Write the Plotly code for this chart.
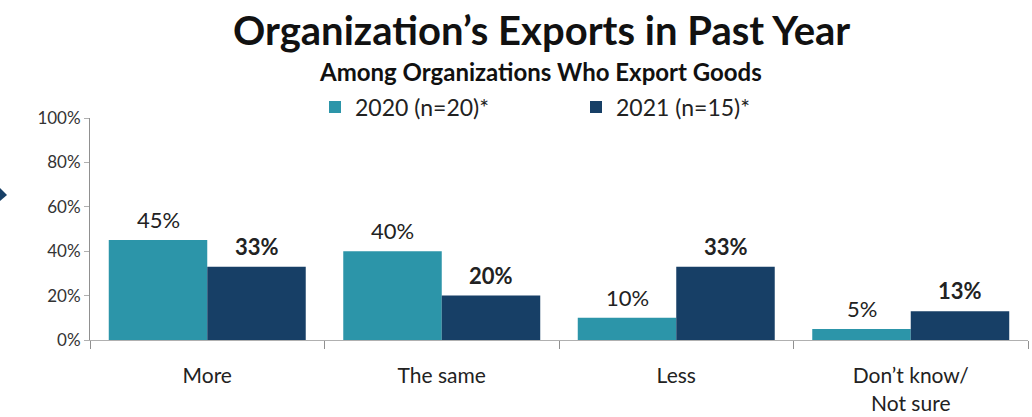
import plotly.graph_objects as go

categories = ["More", "The same", "Less", "Don\u2019t know/<br>Not sure"]
series_names = ["2020 (n=20)*", "2021 (n=15)*"]
values_2020 = [45, 40, 10, 5]
values_2021 = [33, 20, 33, 13]
y_ticks = [0, 20, 40, 60, 80, 100]

teal = "#2C95A9"
navy = "#173F66"
font_family = "Lato, 'Open Sans', sans-serif"

W, H = 1032, 417
L, R, T, B = 90, 4, 118, 77
plot_w, plot_h = W - L - R, H - T - B


def px_to_paper(px, py):
    return (px - L) / plot_w, 1 - (py - T) / plot_h


fig = go.Figure()
fig.add_trace(go.Bar(x=categories, y=values_2020, name=series_names[0],
                     marker=dict(color=teal, line=dict(width=0))))
fig.add_trace(go.Bar(x=categories, y=values_2021, name=series_names[1],
                     marker=dict(color=navy, line=dict(width=0))))

# value labels above each bar (2021 in bold)
bar_offsets = [-0.21, 0.21]
for si, (vals, bold) in enumerate([(values_2020, False), (values_2021, True)]):
    for ci, v in enumerate(vals):
        label = f"<b>{v}%</b>" if bold else f"{v}%"
        fig.add_annotation(x=ci + bar_offsets[si], y=v, xref="x", yref="y",
                           text=label, showarrow=False, yanchor="bottom",
                           yshift=5, font=dict(size=22, color="#222222",
                                               family=font_family))

# title and subtitle
tx, ty = px_to_paper(541, 30)
fig.add_annotation(x=tx, y=ty, xref="paper", yref="paper", showarrow=False,
                   text="<b>Organization\u2019s Exports in Past Year</b>",
                   xanchor="center", yanchor="middle",
                   font=dict(size=40, color="#111111", family=font_family))
sx, sy = px_to_paper(540, 72)
fig.add_annotation(x=sx, y=sy, xref="paper", yref="paper", showarrow=False,
                   text="<b>Among Organizations Who Export Goods</b>",
                   xanchor="center", yanchor="middle",
                   font=dict(size=24, color="#111111", family=font_family))

# small arrow fragment at the left edge
ax0, ay0 = px_to_paper(0, 188)
ax1, ay1 = px_to_paper(7, 195)
ax2, ay2 = px_to_paper(0, 201)
fig.add_shape(type="path", xref="paper", yref="paper",
              path=f"M {ax0} {ay0} L {ax1} {ay1} L {ax2} {ay2} Z",
              fillcolor=navy, line=dict(width=0))

lx, ly = px_to_paper(576, 107)
fig.update_layout(
    width=W, height=H,
    margin=dict(l=L, r=R, t=T, b=B),
    paper_bgcolor="white", plot_bgcolor="white",
    barmode="group", bargap=0.16, bargroupgap=0,
    font=dict(family=font_family, color="#222222"),
    legend=dict(orientation="h", x=lx, xanchor="center", y=ly, yanchor="middle",
                font=dict(size=23, color="#222222"), itemwidth=30,
                traceorder="normal", entrywidth=216),
    showlegend=True,
)
fig.update_xaxes(
    automargin=False,
    showline=True, linecolor="#b0b0b0", linewidth=1,
    ticks="outside", tickson="boundaries", ticklen=8, tickcolor="#909090",
    tickfont=dict(size=21, color="#222222"), ticklabelstandoff=17,
    range=[-0.5, 3.5],
)
fig.update_yaxes(
    automargin=False,
    range=[0, 100], tickvals=y_ticks,
    ticktext=[f"{t}%" for t in y_ticks],
    showline=True, linecolor="#909090", linewidth=1,
    ticks="outside", ticklen=5, tickcolor="#b0b0b0",
    showgrid=False, zeroline=False,
    tickfont=dict(size=17, color="#333333"),
)

fig.write_html("out.html")
